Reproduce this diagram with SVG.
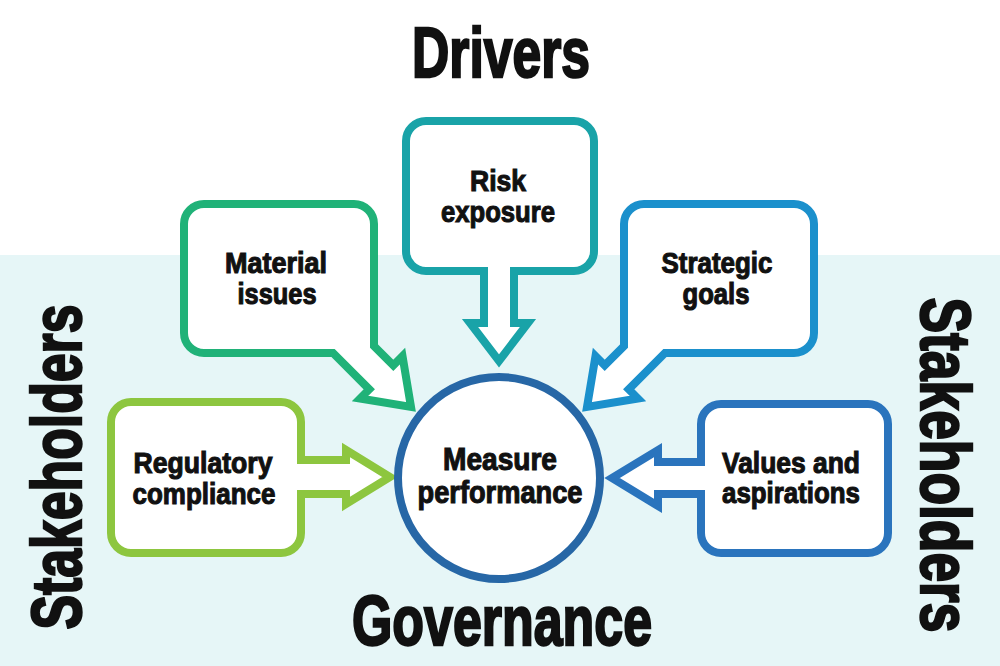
<svg xmlns="http://www.w3.org/2000/svg" width="1000" height="666" viewBox="0 0 1000 666">
<style>
.shape{fill:#fff;stroke-width:8;stroke-linejoin:miter;stroke-miterlimit:10}
.lbl{font-family:"Liberation Sans Narrow","Liberation Sans",Arial,sans-serif;font-weight:bold;font-size:30px;fill:#111;stroke:#111;stroke-width:1.1px;text-anchor:middle}
.big{font-family:"Liberation Sans Narrow","Liberation Sans",Arial,sans-serif;font-weight:bold;font-size:70px;fill:#111;stroke:#111;stroke-width:2.4px;text-anchor:middle}
</style>
<rect x="0" y="0" width="1000" height="666" fill="#fff"/>
<rect x="0" y="255" width="1000" height="411" fill="#e6f6f7"/>
<g id="titles">
<text class="big" x="501" y="77" textLength="178" lengthAdjust="spacingAndGlyphs">Drivers</text>
<text class="big" x="502" y="645" textLength="300" lengthAdjust="spacingAndGlyphs">Governance</text>
<text class="big" transform="translate(81,467) rotate(-90)" textLength="325" lengthAdjust="spacingAndGlyphs">Stakeholders</text>
<text class="big" transform="translate(921,465) rotate(90)" textLength="335" lengthAdjust="spacingAndGlyphs">Stakeholders</text>
</g>
<g id="connectors"></g>
<g id="risk-exposure">
<path class="shape" stroke="#19a3a8" d="M426,121 H574 A20,20 0 0 1 594,141 V251 A20,20 0 0 1 574,271 H514 V323 H528 L499,361 L470,323 H484 V271 H426 A20,20 0 0 1 406,251 V141 A20,20 0 0 1 426,121 Z"/>
<text class="lbl" x="498" y="191" textLength="56" lengthAdjust="spacingAndGlyphs">Risk</text>
<text class="lbl" x="498" y="222" textLength="114" lengthAdjust="spacingAndGlyphs">exposure</text>
</g>
<g id="material-issues">
<path class="shape" stroke="#20b278" d="M204,204 H354 A20,20 0 0 1 374,224 V346 L393.3,365.3 L402.5,356.1 L411,407 L360.1,398.5 L369.3,389.3 L333,353 H204 A20,20 0 0 1 184,333 V224 A20,20 0 0 1 204,204 Z"/>
<text class="lbl" x="276" y="273" textLength="102" lengthAdjust="spacingAndGlyphs">Material</text>
<text class="lbl" x="277" y="304" textLength="79" lengthAdjust="spacingAndGlyphs">issues</text>
</g>
<g id="strategic-goals">
<path class="shape" stroke="#1b90cc" d="M644,204 H794 A20,20 0 0 1 814,224 V333 A20,20 0 0 1 794,353 H665 L628.7,389.3 L637.9,398.5 L587,407 L595.5,356.1 L604.7,365.3 L624,346 V224 A20,20 0 0 1 644,204 Z"/>
<text class="lbl" x="717" y="273" textLength="111" lengthAdjust="spacingAndGlyphs">Strategic</text>
<text class="lbl" x="716" y="304" textLength="67" lengthAdjust="spacingAndGlyphs">goals</text>
</g>
<g id="regulatory-compliance">
<path class="shape" stroke="#8dc63f" d="M131,402 H281 A20,20 0 0 1 301,422 V460 H346 V450 L390,477 L346,504 V494 H301 V533 A20,20 0 0 1 281,553 H131 A20,20 0 0 1 111,533 V422 A20,20 0 0 1 131,402 Z"/>
<text class="lbl" x="203" y="473" textLength="139" lengthAdjust="spacingAndGlyphs">Regulatory</text>
<text class="lbl" x="204" y="504" textLength="143" lengthAdjust="spacingAndGlyphs">compliance</text>
</g>
<g id="values-aspirations">
<path class="shape" stroke="#2a74bd" d="M721,404 H868 A20,20 0 0 1 888,424 V533 A20,20 0 0 1 868,553 H721 A20,20 0 0 1 701,533 V494 H658 V506 L612,478 L658,450 V462 H701 V424 A20,20 0 0 1 721,404 Z"/>
<text class="lbl" x="791" y="473" textLength="138" lengthAdjust="spacingAndGlyphs">Values and</text>
<text class="lbl" x="791" y="503" textLength="138" lengthAdjust="spacingAndGlyphs">aspirations</text>
</g>
<g id="measure-performance">
<circle cx="499" cy="478" r="101" fill="#fff" stroke="#2767a6" stroke-width="8"/>
<text class="lbl" x="500" y="470" style="font-size:31px" textLength="114" lengthAdjust="spacingAndGlyphs">Measure</text>
<text class="lbl" x="500" y="503" style="font-size:31px" textLength="165" lengthAdjust="spacingAndGlyphs">performance</text>
</g>
</svg>
